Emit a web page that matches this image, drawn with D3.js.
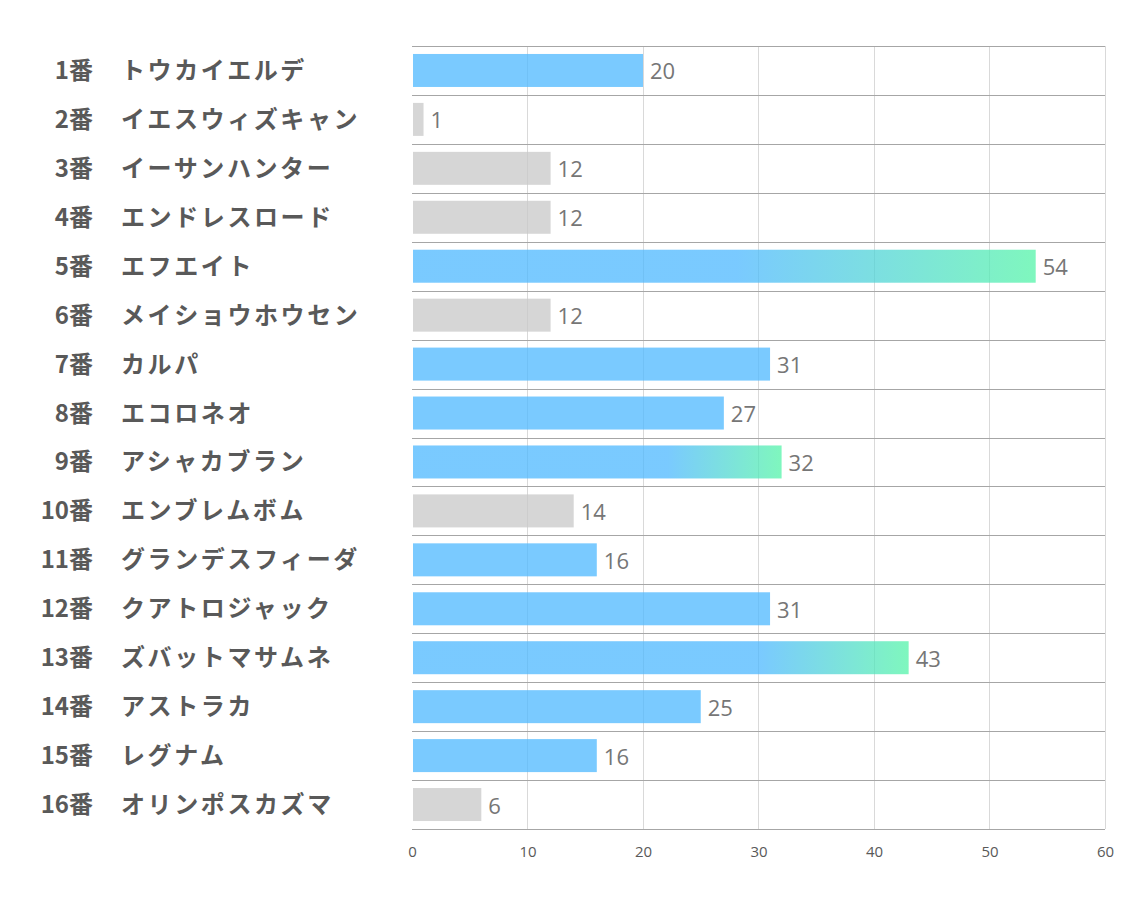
<!DOCTYPE html>
<html><head><meta charset="utf-8">
<script src="https://cdn.jsdelivr.net/npm/d3@7"></script>
<style>body{margin:0;background:#fff}</style>
</head><body>
<script>
const numbers = ["1番","2番","3番","4番","5番","6番","7番","8番","9番","10番","11番","12番","13番","14番","15番","16番"];
const names = ["トウカイエルデ","イエスウィズキャン","イーサンハンター","エンドレスロード","エフエイト","メイショウホウセン","カルパ","エコロネオ","アシャカブラン","エンブレムボム","グランデスフィーダ","クアトロジャック","ズバットマサムネ","アストラカ","レグナム","オリンポスカズマ"];
const values = [20,1,12,12,54,12,31,27,32,14,16,31,43,25,16,6];
const kinds = ["blue","gray","gray","gray","top","gray","blue","blue","top","gray","blue","blue","top","blue","blue","gray"];
const xTicks = [0,10,20,30,40,50,60];

const W = 1134, H = 907;
const m = {left:412, right:1105, top:46, bottom:829};
const svg = d3.select("body").append("svg").attr("width",W).attr("height",H);
const x = d3.scaleLinear().domain([0,60]).range([m.left,m.right]);
const y = d3.scaleBand().domain(d3.range(values.length)).range([m.top,m.bottom]).paddingInner(0).paddingOuter(0);

const defs = svg.append("defs");
const gradStart = {4:0.52, 8:0.69, 12:0.70};
values.forEach((v,i)=>{
  if(kinds[i]!=="top") return;
  const g = defs.append("linearGradient").attr("id","g"+i).attr("x1","0").attr("x2","1").attr("y1","0").attr("y2","0");
  g.append("stop").attr("offset",gradStart[i]).attr("stop-color","#4db8ff");
  g.append("stop").attr("offset",1).attr("stop-color","#54f4a8");
});

// vertical gridlines
svg.append("g").selectAll("line").data(xTicks.slice(1)).join("line")
  .attr("x1",d=>x(d)).attr("x2",d=>x(d)).attr("y1",m.top).attr("y2",m.bottom)
  .attr("stroke","#d9d9d9").attr("stroke-width",1).attr("shape-rendering","crispEdges");
// horizontal gridlines
svg.append("g").selectAll("line").data(d3.range(values.length+1)).join("line")
  .attr("x1",m.left).attr("x2",m.right)
  .attr("y1",d=>Math.round(m.top + d*y.step())+0.5).attr("y2",d=>Math.round(m.top + d*y.step())+0.5)
  .attr("stroke","#a6a6a6").attr("stroke-width",1);

const bh = 33;
svg.append("g").selectAll("rect").data(values).join("rect")
  .attr("x",x(0)+1).attr("y",(d,i)=>y(i)+y.bandwidth()/2-bh/2)
  .attr("width",d=>x(d)-x(0)-1).attr("height",bh)
  .attr("fill",(d,i)=>kinds[i]==="gray"?"#c8c8c8":kinds[i]==="top"?`url(#g${i})`:"#4db8ff")
  .attr("fill-opacity",0.75);

// value labels
svg.append("g").selectAll("text").data(values).join("text")
  .attr("x",d=>x(d)+7).attr("y",(d,i)=>y(i)+y.bandwidth()/2)
  .attr("dominant-baseline","central")
  .attr("font-family","'Open Sans', 'Noto Sans', sans-serif").attr("font-size",22)
  .attr("fill","#767676").text(d=>d);

// category labels
const lab = svg.append("g").attr("font-family","'Noto Sans CJK JP', sans-serif").attr("font-weight","bold").attr("font-size",24).attr("fill","#595959");
lab.selectAll("text.n").data(numbers).join("text").attr("class","n")
  .attr("x",93).attr("y",(d,i)=>y(i)+y.bandwidth()/2-2).attr("dominant-baseline","central")
  .attr("text-anchor","end").text(d=>d);
lab.selectAll("text.m").data(names).join("text").attr("class","m")
  .attr("x",121).attr("y",(d,i)=>y(i)+y.bandwidth()/2-2).attr("dominant-baseline","central")
  .attr("letter-spacing","2.6px")
  .text(d=>d);

// x axis
const ax = svg.append("g").attr("transform",`translate(0,${m.bottom})`)
  .call(d3.axisBottom(x).tickValues(xTicks).tickSize(0).tickPadding(17));
ax.select(".domain").remove();
ax.selectAll("text").attr("font-family","'Open Sans', 'Noto Sans', sans-serif").attr("font-size",15).attr("fill","#595959");
</script>
</body></html>
